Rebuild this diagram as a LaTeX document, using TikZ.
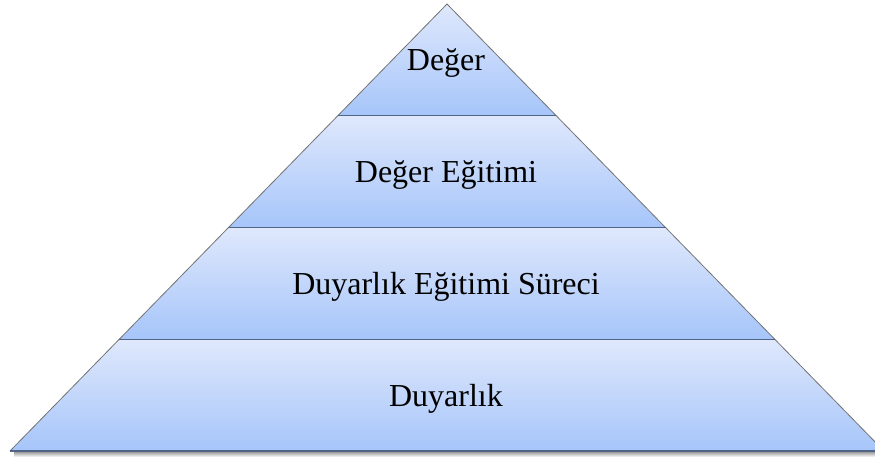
\documentclass[tikz,border=0pt]{standalone}
\usepackage{fontspec}
\setmainfont{Liberation Serif}
\usetikzlibrary{calc}

\begin{document}
\begin{tikzpicture}[x=1pt,y=-1pt,
  layer/.style={top color=levtop,bottom color=levbot,draw=none},
  sep/.style={draw=sepline,line width=1.4pt},
  levtext/.style={font=\fontsize{32}{38}\selectfont,anchor=base}]
  \definecolor{levtop}{RGB}{223,232,252}
  \definecolor{levbot}{RGB}{166,197,250}
  \definecolor{sepline}{RGB}{82,100,132}
  \useasboundingbox (0,0) rectangle (875,459);
  \coordinate (apex) at (447,4);
  \coordinate (bl) at (10,451);
  \coordinate (br) at (884,451);
  \coordinate (sl) at (14,451);
  \coordinate (sr) at (884,457);
  % shadow under the base
  \shade[top color=black!45,bottom color=white] (sl) rectangle (sr);
  % the four layers
  \foreach \a/\b in {0/0.25,0.25/0.5,0.5/0.75,0.75/1}
    \path[layer] ($(apex)!\a!(bl)$) -- ($(apex)!\b!(bl)$) -- ($(apex)!\b!(br)$) -- ($(apex)!\a!(br)$) -- cycle;
  \draw[black!55,line width=0.8pt] (bl) -- (apex) -- (br);
  \foreach \f in {0.25,0.5,0.75}
    \draw[sep] ($(apex)!\f!(bl)$) -- ($(apex)!\f!(br)$);
  \draw[sep] (bl) -- (br);
  \node[levtext] (deger) at (446,70) {Değer};
  \node[levtext] (egitim) at (446,182) {Değer Eğitimi};
  \node[levtext] (surec) at (446,294) {Duyarlık Eğitimi Süreci};
  \node[levtext] (duyarlik) at (446,406) {Duyarlık};
\end{tikzpicture}
\end{document}
